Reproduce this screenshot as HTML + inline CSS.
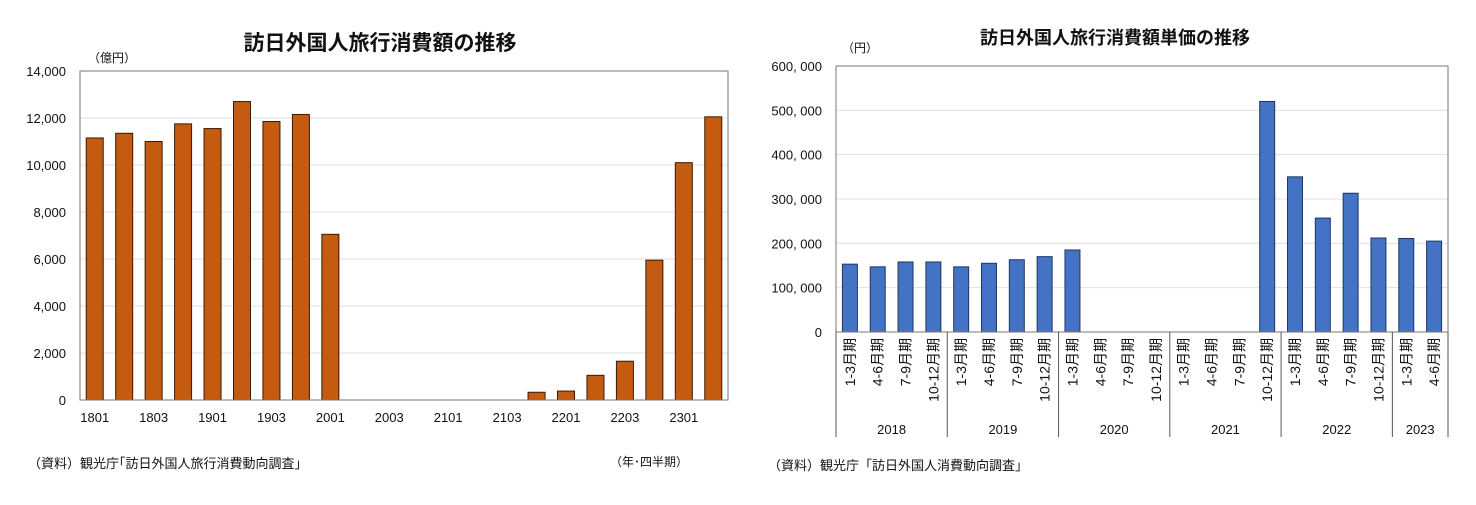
<!DOCTYPE html>
<html><head><meta charset="utf-8">
<style>
body{margin:0;background:#fff;width:1476px;height:500px;overflow:hidden;font-family:"Liberation Sans","Noto Sans CJK JP",sans-serif;}
svg text{font-family:"Liberation Sans","Noto Sans CJK JP",sans-serif;}
</style></head>
<body>
<svg id="c" width="1476" height="500">
<text x="380" y="50" font-size="21" font-weight="bold" text-anchor="middle" fill="#111">訪日外国人旅行消費額の推移</text>
<text x="88" y="62" font-size="12" fill="#111">（億円）</text>
<text x="28" y="468" font-size="13" fill="#111">（資料）観光庁｢訪日外国人旅行消費動向調査｣</text>
<text x="610" y="466" font-size="12" fill="#111">（年･四半期）</text>
<text x="1115" y="44" font-size="18" font-weight="bold" text-anchor="middle" fill="#111">訪日外国人旅行消費額単価の推移</text>
<text x="842" y="52" font-size="12" fill="#111">（円）</text>
<text x="768" y="470" font-size="13" fill="#111">（資料）観光庁「訪日外国人消費動向調査」</text>
</svg>
<script>
const leftCats=['1801','1802','1803','1804','1901','1902','1903','1904','2001','2002','2003','2004','2101','2102','2103','2104','2201','2202','2203','2204','2301','2302'];
const leftVals=[11150,11350,11000,11750,11550,12700,11850,12150,7050,0,0,0,0,0,0,330,380,1050,1650,5950,10100,12050];
const leftTicks=[0,2000,4000,6000,8000,10000,12000,14000];
const rightQuarters=['1-3月期','4-6月期','7-9月期','10-12月期','1-3月期','4-6月期','7-9月期','10-12月期','1-3月期','4-6月期','7-9月期','10-12月期','1-3月期','4-6月期','7-9月期','10-12月期','1-3月期','4-6月期','7-9月期','10-12月期','1-3月期','4-6月期'];
const rightYears=['2018','2019','2020','2021','2022','2023'];
const rightYearCounts=[4,4,4,4,4,2];
const rightVals=[153000,147000,158000,158000,147000,155000,163000,170000,185000,0,0,0,0,0,0,520000,350000,257000,313000,212000,211000,205000];
const rightTicks=[0,100000,200000,300000,400000,500000,600000];

const svg=document.getElementById('c');
const NS='http://www.w3.org/2000/svg';
function mk(t,a,p){const e=document.createElementNS(NS,t);for(const k in a)e.setAttribute(k,a[k]);(p||svg).appendChild(e);return e;}

// LEFT
const L={x0:80,x1:728,y0:400,y1:71,max:14000};
const ly=v=>L.y0-(v/L.max)*(L.y0-L.y1);
const lslot=(L.x1-L.x0)/leftCats.length;
const lx=i=>L.x0+lslot*(i+0.5);
leftTicks.forEach(t=>{
  if(t>0){const g=mk('line',{x1:L.x0,x2:L.x1,y1:ly(t),y2:ly(t),stroke:'#e0e0e0'});
  
  }
  const tx=mk('text',{x:66,y:ly(t)+5,'font-size':13,'text-anchor':'end',fill:'#111'});tx.textContent=t.toLocaleString('en-US');
  
  
});
leftVals.forEach((v,i)=>{
  const r=mk('rect',{x:lx(i)-8.5,y:ly(v),width:17,height:L.y0-ly(v),fill:'#c55a11',stroke:'#3a1a05','stroke-width':1});
  
  
  if(i%2===0){const t=mk('text',{x:lx(i),y:422,'font-size':13,'text-anchor':'middle',fill:'#111'});t.textContent=leftCats[i];
  
  }
});
const lb=mk('rect',{x:L.x0,y:L.y1,width:L.x1-L.x0,height:L.y0-L.y1,fill:'none',stroke:'#777'});



// RIGHT
const R={x0:836,x1:1448,y0:332,y1:66,max:600000};
const ry=v=>R.y0-(v/R.max)*(R.y0-R.y1);
const rslot=(R.x1-R.x0)/rightVals.length;
const rx=i=>R.x0+rslot*(i+0.5);
rightTicks.forEach(t=>{
  if(t>0){const g=mk('line',{x1:R.x0,x2:R.x1,y1:ry(t),y2:ry(t),stroke:'#e0e0e0'});
  
  }
  const tx=mk('text',{x:822,y:ry(t)+5,'font-size':13,'text-anchor':'end',fill:'#111'});tx.textContent=t.toLocaleString('en-US').replace(/,/g,', ');
  
  
});
rightVals.forEach((v,i)=>{
  const r=mk('rect',{x:rx(i)-7.5,y:ry(v),width:15,height:R.y0-ry(v),fill:'#4472c4',stroke:'#1f3763','stroke-width':1});
  
  
  const t=mk('text',{x:0,y:0,'font-size':14,'text-anchor':'end',fill:'#111',transform:`translate(${rx(i)+5},338) rotate(-90)`});t.textContent=rightQuarters[i];
  
  
});
const rb=mk('rect',{x:R.x0,y:R.y1,width:R.x1-R.x0,height:R.y0-R.y1,fill:'none',stroke:'#777'});


let acc=0;
const sep0=mk('line',{x1:R.x0,x2:R.x0,y1:R.y0,y2:437,stroke:'#555'});


rightYears.forEach((y,k)=>{
  const s=acc;acc+=rightYearCounts[k];
  const xa=R.x0+rslot*s,xb=R.x0+rslot*acc;
  const ln=mk('line',{x1:xb,x2:xb,y1:R.y0,y2:437,stroke:'#555'});
  
  
  const t=mk('text',{x:(xa+xb)/2,y:434,'font-size':13,'text-anchor':'middle',fill:'#111'});t.textContent=y;
  
  
});
</script>
</body></html>
